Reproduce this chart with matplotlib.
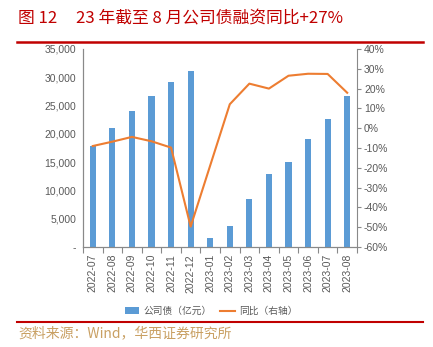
import matplotlib
matplotlib.use("Agg")
import matplotlib.pyplot as plt
from matplotlib.lines import Line2D
from matplotlib.patches import Patch
from matplotlib.ticker import FuncFormatter, FixedLocator
import numpy as np

plt.rcParams['font.family'] = ['Noto Sans CJK SC', 'DejaVu Sans']

categories = ["2022-07", "2022-08", "2022-09", "2022-10", "2022-11", "2022-12",
              "2023-01", "2023-02", "2023-03", "2023-04", "2023-05", "2023-06",
              "2023-07", "2023-08"]
bond_issuance = [17850, 20950, 24050, 26700, 29100, 31050, 1550, 3650, 8450,
                 12900, 15100, 19150, 22550, 26700]
yoy_pct = [-9.0, -6.8, -4.4, -6.6, -9.8, -49.7, -18.8, 12.1, 22.5, 20.0,
           26.5, 27.5, 27.4, 17.9]

title = "图 12     23 年截至 8 月公司债融资同比+27%"
source = "资料来源：Wind，华西证券研究所"
bar_label = "公司债（亿元）"
line_label = "同比（右轴）"

W, H = 433, 347
fig = plt.figure(figsize=(W / 100, H / 100), dpi=100)
ax = fig.add_axes([83 / W, 1 - 247 / H, (357 - 83) / W, (247 - 49) / H])
ax2 = ax.twinx()

x = np.arange(len(categories))
blue = "#5B9BD5"
orange = "#ED7D31"
grey = "#595959"
spine = "#898989"
tickfont = ['Liberation Sans', 'DejaVu Sans']

ax.bar(x, bond_issuance, width=0.32, color=blue, zorder=2)
ax2.plot(x, yoy_pct, color=orange, linewidth=1.5, zorder=3)

ax.set_xlim(-0.5, len(categories) - 0.5)
ax.set_ylim(0, 35000)
ax.set_yticks(np.arange(0, 35001, 5000))
ax.yaxis.set_major_formatter(FuncFormatter(lambda v, p: "-" if v == 0 else f"{int(v):,}"))
ax2.set_ylim(-60, 40)
ax2.set_yticks(np.arange(-60, 41, 10))
ax2.yaxis.set_major_formatter(FuncFormatter(lambda v, p: f"{int(v)}%"))

ax.set_xticks(x)
ax.set_xticklabels(categories, rotation=90)
ax.xaxis.set_minor_locator(FixedLocator(np.arange(-0.5, len(categories), 1.0)))
ax.tick_params(axis='x', which='major', length=0, pad=5, labelsize=7.5, labelcolor=grey)
ax.tick_params(axis='x', which='minor', length=4, color=spine, width=0.8)
ax.tick_params(axis='y', length=0, labelsize=7.5, labelcolor=grey, pad=5)
ax2.tick_params(axis='y', length=3, color=spine, width=0.8, labelsize=7.5, labelcolor=grey, pad=2)
for lab in ax.get_xticklabels() + ax.get_yticklabels() + ax2.get_yticklabels():
    lab.set_family(tickfont)

for a in (ax, ax2):
    a.spines['top'].set_visible(False)
    for s in ('left', 'right', 'bottom'):
        a.spines[s].set_color(spine)
        a.spines[s].set_linewidth(0.8)
ax.spines['right'].set_visible(False)

handles = [Patch(facecolor=blue, edgecolor='none'),
           Line2D([0], [0], color=orange, linewidth=1.5)]
fig.legend(handles, [bar_label, line_label], loc='center',
           bbox_to_anchor=(211 / W, 1 - 311 / H), ncol=2, frameon=False,
           fontsize=7, labelcolor=grey, handlelength=1.5, handleheight=0.6,
           columnspacing=0.9, handletextpad=0.4)

red = "#C00000"
fig.text(18 / W, 1 - 19 / H, title, color=red, fontsize=12.1, va='center', ha='left')
fig.add_artist(Line2D([17 / W, 423 / W], [1 - 42 / H, 1 - 42 / H], color=red, linewidth=1.8))
fig.add_artist(Line2D([17 / W, 423 / W], [1 - 322 / H, 1 - 322 / H], color=red, linewidth=1.5))
fig.text(18 / W, 1 - 333 / H, source, color="#C9A063", fontsize=10, va='center', ha='left')

fig.savefig("out.png", dpi=100, facecolor='white')
